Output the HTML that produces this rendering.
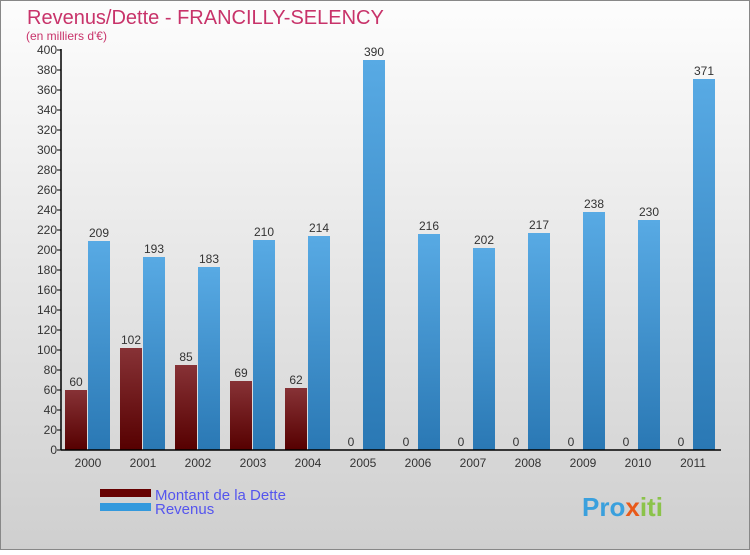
<!DOCTYPE html>
<html><head><meta charset="utf-8"><style>
body{margin:0;width:750px;height:550px;overflow:hidden;font-family:"Liberation Sans",sans-serif;}
</style></head><body>
<svg width="750" height="550" xmlns="http://www.w3.org/2000/svg">
<defs>
<linearGradient id="bg" x1="0" y1="0" x2="0" y2="1"><stop offset="0" stop-color="#fdfdfd"/><stop offset="1" stop-color="#cfcfcf"/></linearGradient>
<linearGradient id="gd" x1="0" y1="0" x2="0" y2="1"><stop offset="0" stop-color="#873236"/><stop offset="1" stop-color="#560000"/></linearGradient>
<linearGradient id="gr" x1="0" y1="0" x2="0" y2="1"><stop offset="0" stop-color="#58aae4"/><stop offset="1" stop-color="#2a78b4"/></linearGradient>
</defs>
<rect x="0.5" y="0.5" width="749" height="549" fill="url(#bg)" stroke="#888"/>
<text x="27" y="24" font-size="20" fill="#c8336a">Revenus/Dette - FRANCILLY-SELENCY</text>
<text x="26" y="40" font-size="12" fill="#c8336a">(en milliers d'€)</text>
<g id="plot"></g>
<rect x="100" y="489" width="51" height="8" fill="#660000"/>
<rect x="100" y="503" width="51" height="8" fill="#3399dd"/>
<text x="155" y="500" font-size="15" fill="#5555ee">Montant de la Dette</text>
<text x="155" y="514" font-size="15" fill="#5555ee">Revenus</text>
<text x="582" y="516" font-size="26" font-weight="bold" fill="#3aa0dd">Pro<tspan fill="#e85a1a">x</tspan><tspan fill="#8bc34a">iti</tspan></text>
</svg>
<script>
const years=["2000","2001","2002","2003","2004","2005","2006","2007","2008","2009","2010","2011"];
const dette=[60,102,85,69,62,0,0,0,0,0,0,0];
const revenus=[209,193,183,210,214,390,216,202,217,238,230,371];
const ticks=[0,20,40,60,80,100,120,140,160,180,200,220,240,260,280,300,320,340,360,380,400];
const NS="http://www.w3.org/2000/svg";
const g=document.getElementById('plot');
const x0=61,gw=55,y0=450,ys=1;
const Y=v=>y0-v*ys;
function mk(t,a,txt){const e=document.createElementNS(NS,t);for(const k in a)e.setAttribute(k,a[k]);if(txt!==undefined)e.textContent=txt;g.appendChild(e);return e;}
ticks.forEach(t=>{
 const l=mk('line',{x1:x0-4,x2:x0,y1:Y(t),y2:Y(t),stroke:'#000'});
 
 
 const s=mk('text',{x:x0-4,y:Y(t)+4,'font-size':12,fill:'#333','text-anchor':'end'},t);
 
 
});
years.forEach((yr,i)=>{
 const gx=x0+gw*i;
 const d=dette[i],r=revenus[i];
 const b1=mk('rect',{x:gx+4,y:Y(d),width:22,height:d*ys,fill:'url(#gd)'});
 
 
 const b2=mk('rect',{x:gx+27,y:Y(r),width:22,height:r*ys,fill:'url(#gr)'});
 
 
 const t1=mk('text',{x:gx+15,y:Y(d)-4,'font-size':12,fill:'#333','text-anchor':'middle'},d);
 
 
 const t2=mk('text',{x:gx+38,y:Y(r)-4,'font-size':12,fill:'#333','text-anchor':'middle'},r);
 
 
 const xl=mk('text',{x:gx+27,y:y0+17,'font-size':12,fill:'#333','text-anchor':'middle'},yr);
 
 
});
const ya=mk('line',{x1:x0,x2:x0,y1:Y(400)-1,y2:y0,stroke:'#000','stroke-width':1.5});


const xa=mk('line',{x1:x0,x2:x0+gw*12,y1:y0,y2:y0,stroke:'#000','stroke-width':1.5});


</script>
</body></html>
